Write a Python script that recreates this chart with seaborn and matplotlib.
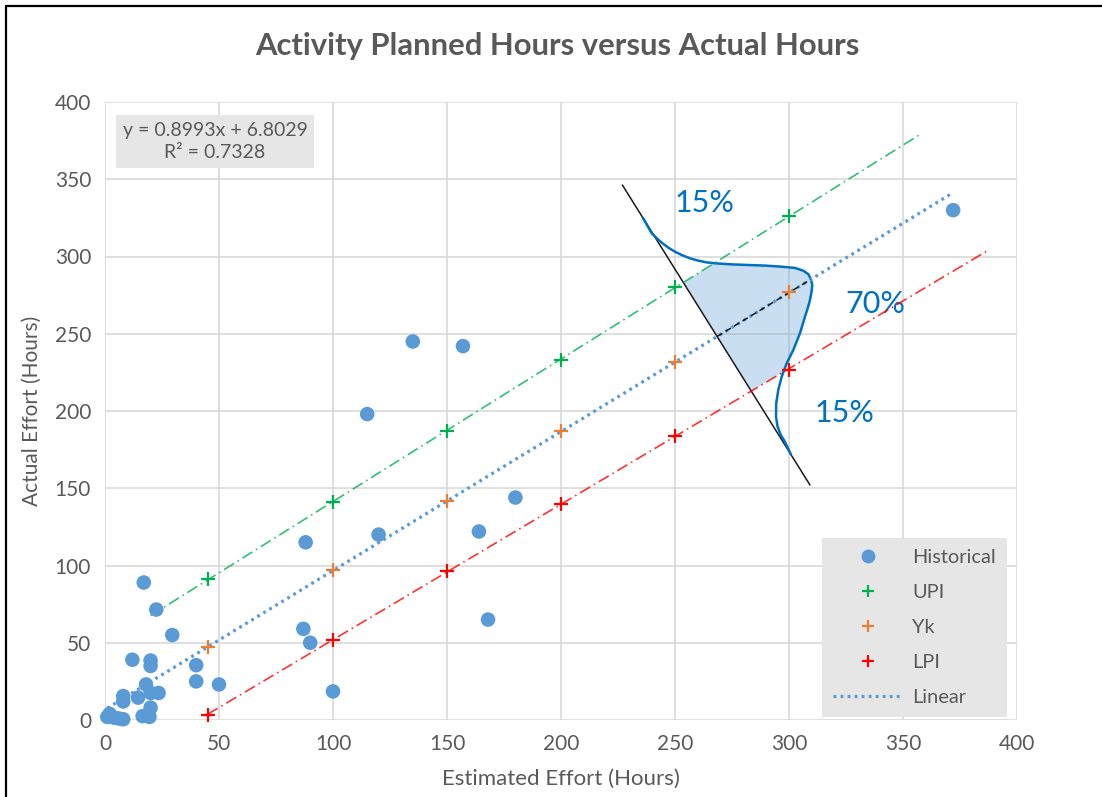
import numpy as np
import pandas as pd
import seaborn as sns
import matplotlib.pyplot as plt
from matplotlib.lines import Line2D
from matplotlib.patches import Polygon

# historical activities (estimated hours, actual hours)
hist_x = [372, 135, 157, 115, 180, 164, 120, 88, 168, 87, 90, 100, 17, 22.5, 29.5, 12, 20, 20,
          40, 40, 50, 18, 8, 8, 14.5, 20, 23.5, 20, 16.5, 19.5, 1, 2, 4, 6, 8]
hist_y = [330, 245, 242, 198, 144, 122, 120, 115, 65, 59, 50, 18.5, 89, 71.5, 55, 39, 38.5, 35,
          35.5, 25, 23, 23, 15.5, 12, 14.5, 17.5, 17.5, 8, 2.5, 2, 2, 4, 1.5, 1, 0.5]

# prediction points
pred_x = [45, 100, 150, 200, 250, 300]
upi_y = [91.5, 141, 187, 233, 280, 326.5]
yk_y = [47, 97, 142, 187, 232, 277]
lpi_y = [3, 52, 96.5, 140, 184, 226.5]

# trendline of the historical data (from the chart label)
slope, intercept, r2 = 0.8993, 6.8029, 0.7328
upi_span = [20, 358]
lpi_span = [45, 388]

# hand drawn distribution across the prediction
cut_x = [226.9, 309.2]
cut_y = [346.3, 152.1]
curve_x = [235.9, 239.8, 242.0, 244.2, 247.1, 250.0, 252.9, 256.6, 260.2, 263.9, 267.5, 274.9,
           282.1, 289.5, 296.8, 302.6, 306.3, 308.5, 309.6, 310.2, 309.9, 309.2, 308.2, 307.0,
           304.8, 301.9, 299.0, 296.8, 295.3, 294.4, 294.3, 295.0, 296.4, 298.2, 300.8]
curve_y = [325.0, 315.0, 311.8, 308.9, 305.7, 303.1, 301.0, 298.8, 297.3, 296.2, 295.6, 294.9,
           294.5, 294.1, 293.4, 292.6, 290.8, 288.5, 285.4, 281.6, 277.2, 271.8, 266.5, 261.0,
           250.3, 239.5, 230.9, 222.2, 213.6, 205.0, 196.3, 189.8, 184.5, 180.1, 172.0]
peak_x = 309.5

grey = '#595959'
blue = '#5b9bd5'
green = '#00b050'
orange = '#ed7d31'
red = '#ff0000'
txt_blue = '#0070c0'

sns.set_theme(style="white")
plt.rcParams['font.family'] = ['Lato', 'DejaVu Sans']

fig = plt.figure(figsize=(11.02, 7.97), dpi=100)
ax = fig.add_axes([105 / 1102, 1 - 720 / 797, 912 / 1102, 618 / 797])

ax.set_xlim(0, 400)
ax.set_ylim(0, 400)
ax.set_xticks(np.arange(0, 401, 50))
ax.set_yticks(np.arange(0, 401, 50))
ax.grid(True, color='#d9d9d9', linewidth=1.2)
ax.set_axisbelow(True)
for s in ax.spines.values():
    s.set_visible(False)
ax.tick_params(axis='both', length=0, labelsize=15, labelcolor=grey, pad=10)

# distribution fill, clipped to the prediction band
upi_fit = np.polyfit(pred_x, upi_y, 1)
lpi_fit = np.polyfit(pred_x, lpi_y, 1)
bx = np.array([150, 400])
band = np.column_stack([np.r_[bx, bx[::-1]],
                        np.r_[np.polyval(upi_fit, bx), np.polyval(lpi_fit, bx[::-1])]])
band_patch = Polygon(band, transform=ax.transData, facecolor='none', edgecolor='none')
ax.add_patch(band_patch)
shape = Polygon(np.column_stack([curve_x, curve_y]), closed=True,
                facecolor=blue, alpha=0.32, edgecolor='none', zorder=1)
ax.add_patch(shape)
shape.set_clip_path(band_patch)

ax.plot(cut_x, cut_y, color='#1a1a1a', lw=1.1, zorder=2)
ax.plot(curve_x, curve_y, color=txt_blue, lw=1.8, zorder=3,
        solid_capstyle='round', solid_joinstyle='round')

# trend and interval lines
lx = np.array([min(hist_x), max(hist_x)])
ax.plot(lx, slope * lx + intercept, color=blue, lw=2.3, linestyle=(0, (0.9, 1.3)), zorder=4)
ux = np.array(upi_span)
ax.plot(ux, np.polyval(upi_fit, ux), color=green, lw=1.2, alpha=0.8,
        dashes=(7, 2.5, 1, 2.5), zorder=4)
wx = np.array(lpi_span)
ax.plot(wx, np.polyval(lpi_fit, wx), color=red, lw=1.2, alpha=0.8,
        dashes=(7, 2.5, 1, 2.5), zorder=4)

# dashed line from cut to peak
a = (cut_y[1] - cut_y[0]) / (cut_x[1] - cut_x[0])
xi = (cut_y[0] - a * cut_x[0] - intercept) / (slope - a)
ax.plot([xi, peak_x], [slope * xi + intercept, slope * peak_x + intercept],
        color='#1a1a1a', lw=1.1, dashes=(4, 2.5), zorder=4)

hist = pd.DataFrame({'x': hist_x, 'y': hist_y})
sns.scatterplot(data=hist, x='x', y='y', ax=ax, color=blue, s=110, edgecolor='none',
                zorder=5, clip_on=False)
for yy, c in [(upi_y, green), (yk_y, orange), (lpi_y, red)]:
    ax.plot(pred_x, yy, linestyle='none', marker='+', markersize=10, mew=1.6, color=c,
            zorder=6, clip_on=False)
ax.set_xlabel('Estimated Effort (Hours)', fontsize=16, color=grey, labelpad=11)
ax.set_ylabel('Actual Effort (Hours)', fontsize=15, color=grey, labelpad=9)

# percent labels
ax.text(263, 334.5, '15%', fontsize=22, color=txt_blue, ha='center', va='center')
ax.text(338, 269, '70%', fontsize=22, color=txt_blue, ha='center', va='center')
ax.text(324.5, 198.5, '15%', fontsize=22, color=txt_blue, ha='center', va='center')

# equation box
ax.text(0.1206, 0.936, f'y = {slope}x + {intercept}\nR² = {r2}', transform=ax.transAxes,
        ha='center', va='center', fontsize=14, color=grey, linespacing=1.42,
        bbox=dict(boxstyle='square,pad=0.32', facecolor='#e6e6e6', edgecolor='none'))

handles = [
    Line2D([], [], linestyle='none', marker='o', markersize=10, color=blue, mec='none'),
    Line2D([], [], linestyle='none', marker='+', markersize=9, mew=1.6, color=green),
    Line2D([], [], linestyle='none', marker='+', markersize=9, mew=1.6, color=orange),
    Line2D([], [], linestyle='none', marker='+', markersize=9, mew=1.6, color=red),
    Line2D([], [], color=blue, lw=2.3, linestyle=(0, (0.9, 1.3))),
]
leg = ax.legend(handles, ['Historical', 'UPI', 'Yk', 'LPI', 'Linear'], loc='lower right',
                bbox_to_anchor=(0.989, 0.005), borderaxespad=0, fontsize=14.4,
                labelcolor=grey, frameon=True, fancybox=False, handlelength=3.5,
                handletextpad=0.45, labelspacing=0.9, borderpad=0.55)
leg.get_frame().set_facecolor('#e6e6e6')
leg.get_frame().set_edgecolor('none')
leg.get_frame().set_alpha(1)
leg.set_zorder(10)

fig.text(557 / 1102, 1 - 46 / 797, 'Activity Planned Hours versus Actual Hours',
         ha='center', va='center', fontsize=22.3, fontweight='bold', color=grey)

# outer frame edges
fig.add_artist(Line2D([6 / 1102, 6 / 1102], [0, 1 - 6 / 797], color='black', lw=1.6))
fig.add_artist(Line2D([6 / 1102, 1], [1 - 6 / 797, 1 - 6 / 797], color='black', lw=1.6))

fig.savefig('out.png', dpi=100)
